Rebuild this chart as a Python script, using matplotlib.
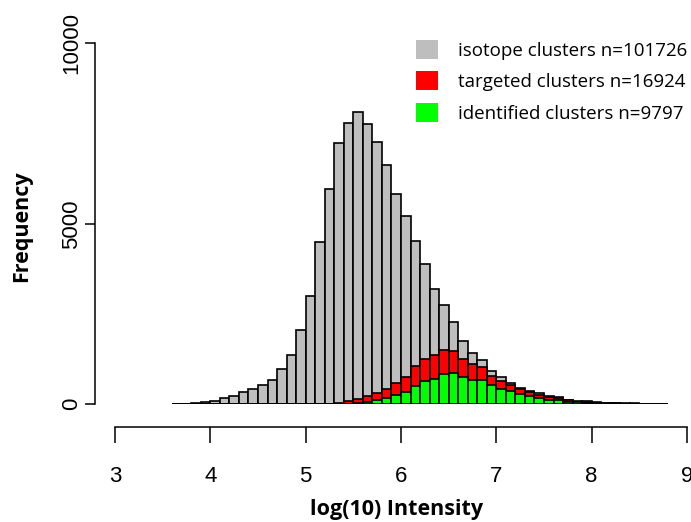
import matplotlib
matplotlib.use("Agg")
import matplotlib.pyplot as plt
from matplotlib.patches import Patch

# histogram bins (left edges, width 0.1)
bin_left = [3.6, 3.7, 3.8, 3.9, 4.0, 4.1, 4.2, 4.3, 4.4, 4.5,
            4.6, 4.7, 4.8, 4.9, 5.0, 5.1, 5.2, 5.3, 5.4, 5.5,
            5.6, 5.7, 5.8, 5.9, 6.0, 6.1, 6.2, 6.3, 6.4, 6.5,
            6.6, 6.7, 6.8, 6.9, 7.0, 7.1, 7.2, 7.3, 7.4, 7.5,
            7.6, 7.7, 7.8, 7.9, 8.0, 8.1, 8.2, 8.3, 8.4, 8.5,
            8.6, 8.7]
bin_width = 0.1

isotope = [3, 8, 28, 55, 95, 185, 225, 335, 420, 548,
           668, 980, 1375, 2065, 3010, 4490, 5955, 7240, 7805, 8085,
           7770, 7260, 6630, 5825, 5225, 4520, 3900, 3185, 2745, 2270,
           1750, 1425, 1230, 915, 745, 602, 458, 361, 300, 231,
           194, 130, 83, 80, 50, 45, 35, 30, 25, 8,
           5, 3]
targeted = [0, 0, 0, 0, 0, 0, 0, 0, 0, 0,
            0, 0, 0, 0, 5, 10, 15, 30, 85, 140,
            240, 305, 430, 593, 760, 1055, 1260, 1375, 1500, 1472,
            1259, 1111, 1028, 787, 645, 528, 420, 330, 270, 213,
            176, 120, 74, 70, 40, 35, 25, 20, 15, 5,
            3, 0]
identified = [0, 0, 0, 0, 0, 0, 0, 0, 0, 0,
              0, 0, 0, 0, 0, 0, 0, 5, 12, 28,
              65, 111, 170, 245, 350, 515, 640, 713, 830, 861,
              769, 685, 667, 528, 430, 360, 283, 226, 180, 130,
              111, 65, 50, 45, 20, 18, 12, 10, 8, 3,
              0, 0]

labels = ["isotope clusters n=101726",
          "targeted clusters n=16924",
          "identified clusters n=9797"]
colors = ["#BEBEBE", "#FF0000", "#00FF00"]

W, H = 691, 522
fig = plt.figure(figsize=(W / 100, H / 100), dpi=100)
# x: 3 -> 115px, 9 -> 687px ; y: 0 -> 404px, 10000 -> 43px (from top)
ax = fig.add_axes([115 / W, (H - 404.3) / H, 572 / W, 361 / H])

for vals, col in zip([isotope, targeted, identified], colors):
    ax.bar(bin_left, vals, width=bin_width, align="edge", color=col,
           edgecolor="black", linewidth=1.2)

ax.set_xlim(3, 9)
ax.set_ylim(0, 10000)

for s in ["top", "right"]:
    ax.spines[s].set_visible(False)
ax.spines["left"].set_position(("outward", 14.4))
ax.spines["bottom"].set_position(("outward", 16.1))
ax.spines["left"].set_bounds(0, 10000)
ax.spines["bottom"].set_bounds(3, 9)
ax.spines["left"].set_linewidth(1.1)
ax.spines["bottom"].set_linewidth(1.1)

ax.set_xticks([3, 4, 5, 6, 7, 8, 9])
ax.set_yticks([0, 5000, 10000])
tick_font = {"family": "Liberation Sans", "size": 16}
ax.set_xticklabels(["3", "4", "5", "6", "7", "8", "9"], fontdict=tick_font)
ax.set_yticklabels(["0", "5000", "10000"], fontdict=tick_font,
                   rotation=90, va="center")
ax.tick_params(axis="x", length=11.5, width=1.1, pad=16.5)
ax.tick_params(axis="y", length=7.5, width=1.1, pad=1.5)

fig.text(22 / W, 1 - 226 / H, "Frequency", rotation=90, ha="center",
         va="center", family="Open Sans", weight="bold", fontsize=15.5)
fig.text(397 / W, 1 - 510 / H, "log(10) Intensity", ha="center",
         va="center", family="Open Sans", weight="bold", fontsize=15.5)

handles = [Patch(facecolor=c, edgecolor="none") for c in colors]
ax.legend(handles, labels, loc="upper left",
          bbox_to_anchor=(416 / W, 1 - 40 / H),
          bbox_transform=fig.transFigure, frameon=False,
          borderaxespad=0, borderpad=0,
          prop={"family": "Open Sans", "size": 13.5},
          handlelength=1.17, handleheight=1.17, handletextpad=1.05,
          labelspacing=0.62)

fig.savefig("out.png", dpi=100)
